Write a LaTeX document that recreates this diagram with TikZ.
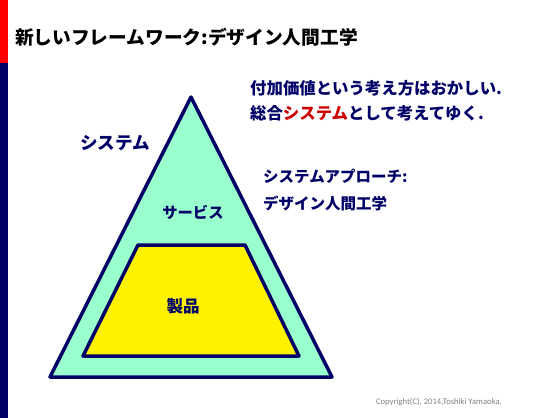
\documentclass[tikz,border=0pt]{standalone}
\usepackage{fontspec}
\setmainfont{Noto Sans CJK JP}
\newfontfamily\copyfont{Carlito}
\definecolor{navy}{HTML}{000066}
\definecolor{mint}{HTML}{99FFCC}
\definecolor{darkred}{HTML}{CC0000}
\tikzset{
  jtext/.style={anchor=west,inner sep=0pt,text=navy,font=\bfseries\fontsize{#1}{#1}\selectfont},
  jtext/.default=16
}
\begin{document}
\begin{tikzpicture}[x=1pt,y=-1pt,line join=round]
	\def\lw{3.5pt}
	\useasboundingbox (0,0) rectangle (550,418);
	\fill[red] (0,0) rectangle (8,63);
	\fill[navy] (0,63) rectangle (8,418);
	% outer triangle and inner trapezoid
	\draw[navy,fill=mint,line width=\lw] (191,97)--(332,377)--(50,377)--cycle;
	\draw[navy,fill=yellow,line width=\lw] (138,245)--(245,245)--(299,356)--(83,356)--cycle;
	\node[jtext=18.7,text=black] (title) at (15,37) {新しいフレームワーク:デザイン人間工学};
	\node[jtext=17.6] (sys) at (80,143) {システム};
	\node[jtext=15.3,anchor=center] (serv) at (193,212) {サービス};
	\node[jtext=16.5,anchor=center] (prod) at (183,306) {製品};
	\node[jtext=16.4] (msgA) at (250,88) {付加価値という考え方はおかしい.};
	\node[jtext=16.4] (msgB) at (250,113) {総合\textcolor{darkred}{システム}として考えてゆく.};
	\node[jtext=15.5] (appA) at (263,176) {システムアプローチ:};
	\node[jtext=15.5] (appB) at (263,203) {デザイン人間工学};
	\node[anchor=east,inner sep=0pt,text=gray,font=\copyfont\fontsize{8.6}{8.6}\selectfont] (copy) at (502,402) {Copyright(C), 2014,Toshiki Yamaoka,};
\end{tikzpicture}
\end{document}
